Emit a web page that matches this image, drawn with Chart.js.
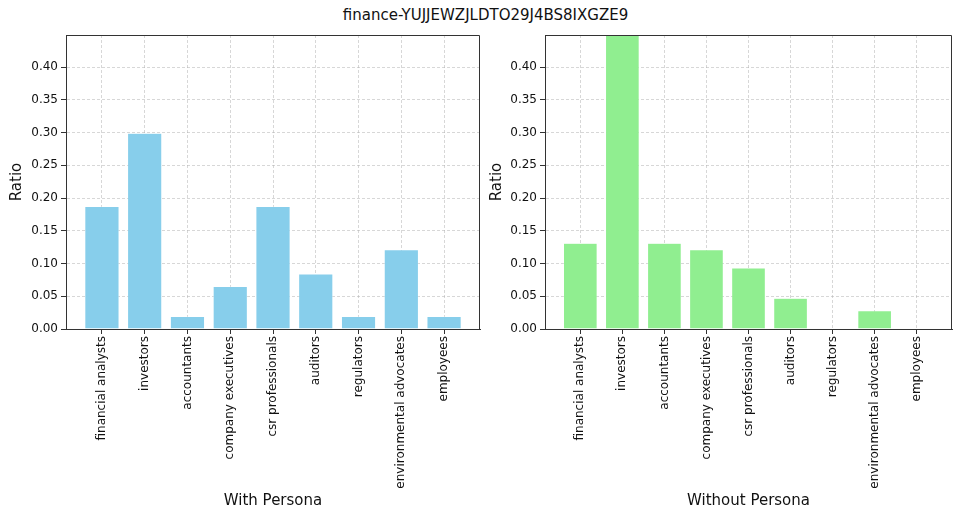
<!DOCTYPE html>
<html lang="en">
<head>
    <meta charset="UTF-8">
    <title>finance persona ratios</title>
    <script src="https://cdn.jsdelivr.net/npm/chart.js"></script>
    <style>
        body { margin: 0; background: #fff; }
        #wrap { position: relative; width: 953px; height: 513px; }
        #title {
            position: absolute; left: 9px; top: 6px; width: 953px; text-align: center;
            font-family: 'DejaVu Sans', sans-serif; font-size: 15px; color: #111;
        }
        canvas { position: absolute; top: 0; }
    </style>
</head>
<body>
    <div id="wrap">
        <div id="title">finance-YUJJEWZJLDTO29J4BS8IXGZE9</div>
        <canvas id="left" width="490" height="513" style="left:0"></canvas>
        <canvas id="right" width="473" height="513" style="left:480px"></canvas>
    </div>

    <script>
        const categories = ['financial analysts', 'investors', 'accountants', 'company executives',
            'csr professionals', 'auditors', 'regulators', 'environmental advocates', 'employees'];
        const withPersona = [0.187, 0.299, 0.019, 0.065, 0.187, 0.084, 0.019, 0.121, 0.019];
        const withoutPersona = [0.131, 0.449, 0.131, 0.121, 0.093, 0.047, 0, 0.028, 0];
        const yTicks = [0, 0.05, 0.10, 0.15, 0.20, 0.25, 0.30, 0.35, 0.40];
        const yMax = 0.449;

        const font = 'DejaVu Sans';

        // top + right spines like matplotlib
        const frame = {
            id: 'frame',
            afterDraw(chart) {
                const a = chart.chartArea, c = chart.ctx;
                c.save();
                c.strokeStyle = '#333';
                c.lineWidth = 1;
                c.beginPath();
                c.moveTo(a.left, a.top + 0.5);
                c.lineTo(a.right - 0.5, a.top + 0.5);
                c.lineTo(a.right - 0.5, a.bottom);
                c.stroke();
                c.restore();
            }
        };

        function makeChart(id, values, color, xTitle, yWidth, padRight) {
            const points = values.map((v, i) => ({ x: i, y: v }));
            return new Chart(document.getElementById(id), {
                type: 'bar',
                data: {
                    datasets: [{
                        data: points,
                        backgroundColor: color,
                        borderColor: 'rgba(255,255,255,0.7)',
                        borderWidth: 0.5,
                        barPercentage: 1,
                        categoryPercentage: 0.8
                    }]
                },
                options: {
                    responsive: false,
                    animation: false,
                    devicePixelRatio: 1,
                    layout: { padding: { top: 35, left: 0, right: padRight, bottom: 0 } },
                    plugins: { legend: { display: false }, tooltip: { enabled: false } },
                    scales: {
                        x: {
                            type: 'linear',
                            min: -0.84,
                            max: 8.84,
                            offset: false,
                            z: 1,
                            afterFit: s => { s.height = 184; },
                            grid: {
                                offset: false,
                                color: 'rgba(176,176,176,0.5)',
                                tickColor: '#333',
                                tickLength: 5,
                                tickBorderDash: []
                            },
                            border: { color: '#333', width: 1, dash: [3, 2] },
                            ticks: {
                                stepSize: 1,
                                includeBounds: false,
                                autoSkip: false,
                                minRotation: 90,
                                maxRotation: 90,
                                padding: 2,
                                color: '#111',
                                font: { family: font, size: 12 },
                                callback: v => categories[v]
                            },
                            title: {
                                display: true,
                                text: xTitle,
                                color: '#111',
                                font: { family: font, size: 15 },
                                padding: { top: 4, bottom: 3 }
                            }
                        },
                        y: {
                            min: 0,
                            max: yMax,
                            z: 1,
                            afterFit: s => { s.width = yWidth; },
                            afterBuildTicks: s => { s.ticks = yTicks.map(v => ({ value: v })); },
                            grid: {
                                color: 'rgba(176,176,176,0.5)',
                                tickColor: '#333',
                                tickLength: 5,
                                tickBorderDash: []
                            },
                            border: { color: '#333', width: 1, dash: [3, 2] },
                            ticks: {
                                padding: 3,
                                color: '#111',
                                font: { family: font, size: 12 },
                                callback: v => v.toFixed(2)
                            },
                            title: {
                                display: true,
                                text: 'Ratio',
                                color: '#111',
                                font: { family: font, size: 15 },
                                padding: { top: 8, bottom: 4 }
                            }
                        }
                    }
                },
                plugins: [frame]
            });
        }

        makeChart('left', withPersona, '#87CEEB', 'With Persona', 66, 10);
        makeChart('right', withoutPersona, '#90EE90', 'Without Persona', 65, 1);
    </script>
</body>
</html>
